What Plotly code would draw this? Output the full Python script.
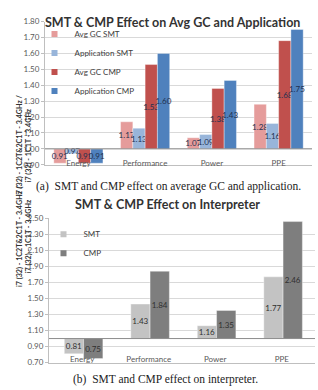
import plotly.graph_objects as go

categories = ["Energy", "Performance", "Power", "PPE"]

# Chart (a)
avg_gc_smt = [0.91, 1.17, 1.07, 1.28]
app_smt = [0.97, 1.13, 1.09, 1.16]
avg_gc_cmp = [0.91, 1.53, 1.38, 1.68]
app_cmp = [0.91, 1.60, 1.43, 1.75]

# Chart (b)
interp_smt = [0.81, 1.43, 1.16, 1.77]
interp_cmp = [0.75, 1.84, 1.35, 2.46]

W, H = 318, 390
BASE = 1.0

def py(pix):
    return 1 - pix / H

def px(pix):
    return pix / W

fig = go.Figure()

series_a = [
    ("Avg GC SMT", avg_gc_smt, "#E59C9B"),
    ("Application SMT", app_smt, "#98B5DA"),
    ("Avg GC CMP", avg_gc_cmp, "#C0504D"),
    ("Application CMP", app_cmp, "#4F81BD"),
]
wa = 0.184
for i, (name, vals, col) in enumerate(series_a):
    fig.add_trace(go.Bar(
        x=categories, y=[v - BASE for v in vals], base=BASE, name=name,
        width=wa, offset=-2 * wa + i * wa,
        marker=dict(color=col, line=dict(color="rgba(255,255,255,0.6)", width=0.6)),
        text=[f"{v:.2f}" for v in vals], textposition="inside",
        insidetextanchor="middle", textangle=0,
        textfont=dict(size=8, color="#1F3050", family="Lato"),
        xaxis="x", yaxis="y", showlegend=False,
    ))
    fig.add_trace(go.Scatter(
        x=[None], y=[None], mode="markers", name=name,
        marker=dict(symbol="square", size=6, color=col),
        xaxis="x", yaxis="y", legend="legend", showlegend=True,
    ))

series_b = [
    ("SMT", interp_smt, "#C3C3C3"),
    ("CMP", interp_cmp, "#7E7E7E"),
]
wb = 0.29
for i, (name, vals, col) in enumerate(series_b):
    fig.add_trace(go.Bar(
        x=categories, y=[v - BASE for v in vals], base=BASE, name=name,
        width=wb, offset=-wb + i * wb + 0.02,
        marker=dict(color=col, line=dict(color="rgba(255,255,255,0.6)", width=0.6)),
        text=[f"{v:.2f}" for v in vals], textposition="inside",
        insidetextanchor="middle", textangle=0,
        textfont=dict(size=8, color="#303030", family="Lato"),
        xaxis="x2", yaxis="y2", showlegend=False,
    ))
    fig.add_trace(go.Scatter(
        x=[None], y=[None], mode="markers", name=name,
        marker=dict(symbol="square", size=6, color=col),
        xaxis="x2", yaxis="y2", legend="legend2", showlegend=True,
    ))

tickfont = dict(size=8, color="#595959", family="Lato")
yaxis_common = dict(showgrid=True, gridcolor="#D9D9D9", gridwidth=1, showline=True,
                    linecolor="#BFBFBF", linewidth=1, ticks="outside", ticklen=3,
                    tickcolor="#BFBFBF", tickfont=tickfont, tickformat=".2f",
                    zeroline=False)
legfont = dict(size=8, color="#404040", family="Lato")

fig.update_layout(
    width=W, height=H,
    margin=dict(l=0, r=0, t=0, b=0),
    paper_bgcolor="white", plot_bgcolor="white",
    barmode="group",
    showlegend=True,
    uniformtext=dict(minsize=8, mode="show"),
    xaxis=dict(domain=[px(45), px(312)], anchor="y", showgrid=False, showline=True,
               linecolor="#BFBFBF", ticks="", tickfont=tickfont, ticklabelstandoff=-9),
    yaxis=dict(domain=[py(164), py(17)], anchor="x", range=[0.90, 1.80],
               tick0=0.9, dtick=0.1, **yaxis_common),
    xaxis2=dict(domain=[px(49), px(315)], anchor="y2", showgrid=False, showline=True,
                linecolor="#BFBFBF", ticks="", tickfont=tickfont, ticklabelstandoff=-11),
    yaxis2=dict(domain=[py(367), py(219)], anchor="x2", range=[0.70, 2.50],
                tick0=0.7, dtick=0.2, **yaxis_common),
    legend=dict(x=px(34.5), y=py(15), xanchor="left", yanchor="top",
                bgcolor="rgba(0,0,0,0)", font=legfont, tracegroupgap=0,
                itemsizing="trace"),
    legend2=dict(x=px(43.5), y=py(220.5), xanchor="left", yanchor="top",
                 bgcolor="rgba(0,0,0,0)", font=legfont, tracegroupgap=0,
                 itemsizing="trace"),
)

# Baseline at 1.00 for both charts
for yref, xref in (("y", "x"), ("y2", "x2")):
    fig.add_shape(type="line", xref=f"{xref} domain", yref=yref,
                  x0=0, x1=1, y0=BASE, y1=BASE,
                  line=dict(color="#8C8C8C", width=1))

# White backgrounds behind the legends (cover gridlines, below bars)
fig.add_shape(type="rect", xref="paper", yref="paper", layer="between",
              x0=px(46), x1=px(138), y0=py(99), y1=py(24),
              fillcolor="white", line=dict(width=0))
fig.add_shape(type="rect", xref="paper", yref="paper", layer="between",
              x0=px(58), x1=px(104), y0=py(259), y1=py(226),
              fillcolor="white", line=dict(width=0))

ann = []
ann.append(dict(text="<b>SMT & CMP Effect on Avg GC and Application</b>",
                x=px(172), y=py(8), xref="paper", yref="paper",
                showarrow=False, font=dict(size=12.5, color="#333333", family="Lato")))
ann.append(dict(text="<b>SMT & CMP Effect on Interpreter</b>",
                x=px(167), y=py(205), xref="paper", yref="paper",
                showarrow=False, font=dict(size=12.5, color="#333333", family="Lato")))
ann.append(dict(text="(a)  SMT and CMP effect on average GC and application.",
                x=px(168), y=py(186), xref="paper", yref="paper",
                showarrow=False, font=dict(size=11.5, color="#222222", family="Liberation Serif")))
ann.append(dict(text="(b)  SMT and CMP effect on interpreter.",
                x=px(165), y=py(376), xref="paper", yref="paper", yanchor="top",
                showarrow=False, font=dict(size=11.5, color="#222222", family="Liberation Serif")))
ytitle = "<b>i7 (32) - 1C2T&2C1T - 3.4GHz /<br>i7 (32) - 1C1T - 3.4GHz</b>"
ann.append(dict(text=ytitle, x=px(12.5), y=py(90), xref="paper", yref="paper",
                textangle=-90, showarrow=False,
                font=dict(size=7.2, color="#333333", family="Lato")))
ann.append(dict(text=ytitle, x=px(12.5), y=py(292), xref="paper", yref="paper",
                textangle=-90, showarrow=False,
                font=dict(size=7.2, color="#333333", family="Lato")))
fig.update_layout(annotations=ann)

fig.write_html("out.html")
